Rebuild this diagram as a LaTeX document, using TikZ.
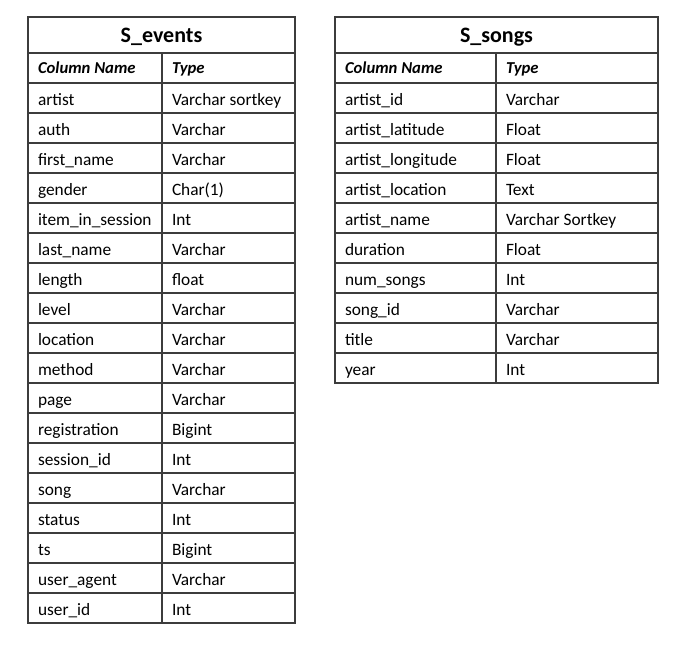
\documentclass[tikz,border=0pt]{standalone}
\usepackage{fontspec}
\setmainfont{Carlito}
\usepackage{xcolor}
\usetikzlibrary{positioning}

\definecolor{gridgray}{HTML}{3C3C3C}

\begin{document}
\begin{tikzpicture}[x=0.75pt,y=-0.75pt,semithick]
\tikzstyle{every node}=[inner sep=0pt,outer sep=0pt]
\tikzstyle{title}=[anchor=base,font=\fontsize{16.5}{19}\selectfont\bfseries]
\tikzstyle{head}=[anchor=base west,font=\fontsize{12.5}{15}\selectfont\bfseries\itshape]
\tikzstyle{cell}=[anchor=base west,font=\fontsize{13}{15}\selectfont]
\tikzstyle{outer}=[draw=gridgray,line width=1.4pt]
\tikzstyle{inner}=[draw=gridgray,line width=0.8pt]

\useasboundingbox (0,0) rectangle (679,653);

% S_events table
\node[title] (EVT) at (161.5,42.5) {S\_events};
\node[head] (EVH1) at (38,73) {Column Name};
\node[head] (EVH2) at (172,73) {Type};
\foreach \n/\a/\b in {1/artist/Varchar sortkey, 2/auth/Varchar,
    3/first\_name/Varchar, 4/gender/Char(1), 5/item\_in\_session/Int,
    6/last\_name/Varchar, 7/length/float, 8/level/Varchar,
    9/location/Varchar, 10/method/Varchar, 11/page/Varchar,
    12/registration/Bigint, 13/session\_id/Int, 14/song/Varchar,
    15/status/Int, 16/ts/Bigint, 17/user\_agent/Varchar, 18/user\_id/Int}
{
  \node[cell] (EV\n) at (38,{75.5+30*\n}) {\a};
  \node[cell] (EV\n t) at (172,{75.5+30*\n}) {\b};
}
\foreach \y in {53,83,...,593}
  \path[inner] (28,\y) -- (295,\y);
\path[inner] (162,53) -- (162,623);
\path[outer] (28,17) rectangle (295,623);

% S_songs table
\node[title] (SGT) at (496.5,42.5) {S\_songs};
\node[head] (SGH1) at (345,73) {Column Name};
\node[head] (SGH2) at (506,73) {Type};
\foreach \n/\a/\b in {1/artist\_id/Varchar, 2/artist\_latitude/Float,
    3/artist\_longitude/Float, 4/artist\_location/Text,
    5/artist\_name/Varchar Sortkey, 6/duration/Float, 7/num\_songs/Int,
    8/song\_id/Varchar, 9/title/Varchar, 10/year/Int}
{
  \node[cell] (SG\n) at (345,{75.5+30*\n}) {\a};
  \node[cell] (SG\n t) at (506,{75.5+30*\n}) {\b};
}
\foreach \y in {53,83,...,353}
  \path[inner] (335,\y) -- (658,\y);
\path[inner] (496,53) -- (496,383);
\path[outer] (335,17) rectangle (658,383);
\end{tikzpicture}
\end{document}
